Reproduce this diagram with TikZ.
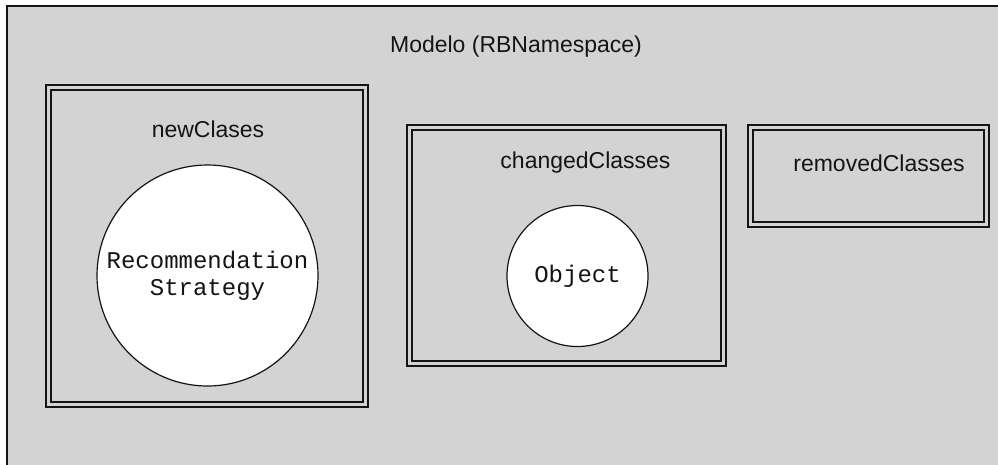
\documentclass[tikz,border=0pt]{standalone}
\usepackage{fontspec}
\setmainfont{Liberation Sans}
\setmonofont{Liberation Mono}
\definecolor{panel}{RGB}{211,211,211}
\definecolor{ink}{RGB}{20,20,20}
\begin{document}
\begin{tikzpicture}[x=1pt,y=-1pt,
  frame/.style={draw=ink,line width=2pt,fill=panel},
  group/.style={draw=ink,line width=1.4pt,double=panel,double distance=3.6pt},
  title/.style={font=\fontsize{23}{27}\selectfont,text=ink,inner sep=0pt},
  cls/.style={circle,draw=ink,line width=1.2pt,fill=white,inner sep=0pt,
    font=\ttfamily\fontsize{24}{27}\selectfont,align=center,text=ink}]
  \useasboundingbox (0,0) rectangle (998,464);
  % outer namespace frame, running past the right and bottom edges
  \draw[frame] (6.5,5.5) rectangle (1010,480);
  \node[title] (model) at (516,47) {Modelo (RBNamespace)};

  % newClases group
  \draw[group] (48.5,87.5) rectangle (365.5,404.5);
  \node[title] (newT) at (208,129) {newClases};
  \node[cls,minimum size=221pt] (rec) at (207.5,275.5) {Recommendation\\Strategy};

  % changedClasses group
  \draw[group] (409.5,127.5) rectangle (723.5,363.5);
  \node[title] (chT) at (585.5,163) {changedClasses};
  \node[cls,minimum size=141pt] (obj) at (577.5,276) {Object};

  % removedClasses group
  \draw[group] (750.5,127.5) rectangle (986.5,224.5);
  \node[title] (rmT) at (879,163) {removedClasses};
\end{tikzpicture}
\end{document}
